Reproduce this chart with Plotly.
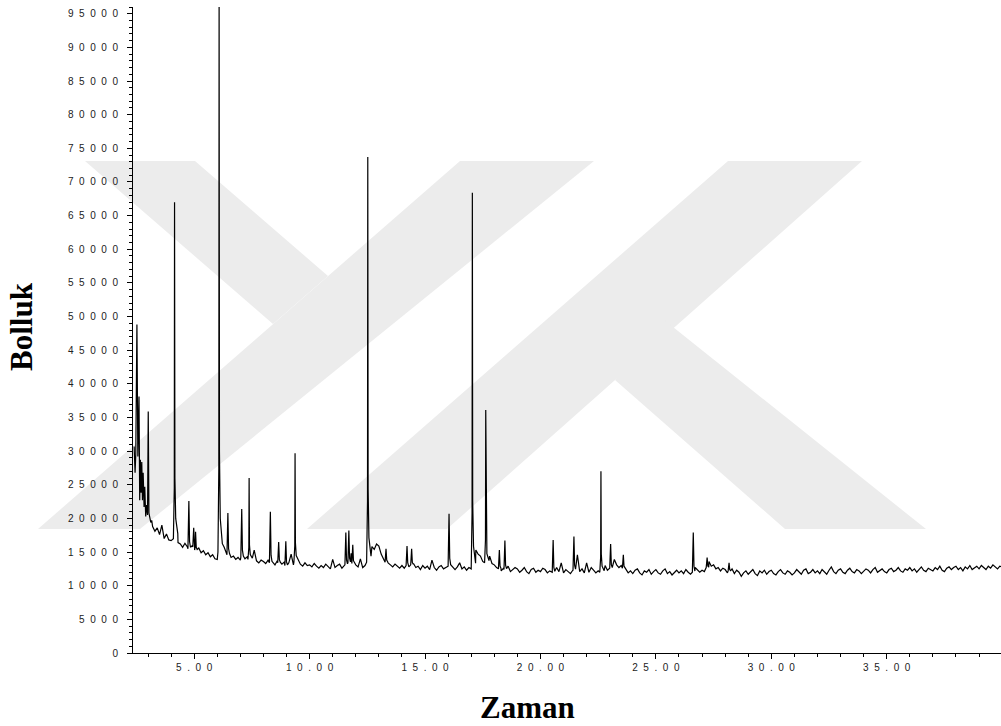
import plotly.graph_objects as go

# ---------------- data ----------------
# Start of the run: dense, overlapping early peaks (minutes, counts)
early_t = [2.40, 2.44, 2.47, 2.52, 2.56, 2.61, 2.64, 2.67, 2.70, 2.73, 2.76,
           2.79, 2.83, 2.86, 2.90, 2.94, 2.98, 3.01, 3.04, 3.08, 3.12, 3.16]
early_v = [30700, 26800, 29500, 48800, 29200, 38100, 22700, 28700, 23800, 28400, 22700,
           26800, 21700, 24700, 20300, 22000, 20500, 35900, 20800, 19800, 19400, 19700]

# Baseline (with its noise), sampled every 0.1 min from 3.2 min, in hundreds of counts
base_start = 3.2
base_step = 0.1
base_h = [
    188, 181, 186, 176, 190, 170, 177, 168,                 # 3.2 - 3.9
    167, 161, 170, 164, 162, 157, 163, 158, 155, 159,       # 4
    158, 153, 156, 149, 152, 146, 149, 143, 146, 140,       # 5
    139, 150, 158, 157, 148, 146, 142, 144, 139, 142,       # 6
    138, 142, 140, 143, 139, 137, 153, 137, 134, 138,       # 7
    136, 133, 138, 134, 135, 131, 137, 134, 132, 135,       # 8
    130, 134, 147, 131, 135, 133, 132, 129, 134, 130,       # 9
    131, 128, 133, 129, 126, 130, 127, 132, 128, 125,       # 10
    139, 127, 130, 132, 126, 129, 131, 134, 148, 133,       # 11
    131, 128, 140, 127, 130, 135, 140, 158, 154, 162,       # 12
    159, 147, 139, 135, 134, 131, 128, 132, 129, 126,       # 13
    130, 126, 130, 128, 131, 133, 127, 129, 124, 130,       # 14
    126, 129, 124, 138, 127, 123, 128, 130, 125, 127,       # 15
    129, 129, 127, 124, 128, 134, 125, 128, 123, 127,       # 16
    125, 124, 153, 147, 144, 136, 134, 130, 144, 133,       # 17
    131, 127, 125, 122, 126, 124, 129, 121, 124, 127,       # 18
    125, 120, 123, 127, 121, 118, 124, 126, 120, 123,       # 19
    121, 126, 124, 119, 122, 120, 128, 127, 121, 134,       # 20
    119, 124, 121, 118, 123, 125, 146, 121, 125, 119,       # 21
    134, 120, 127, 123, 119, 122, 120, 125, 130, 123,       # 22
    126, 126, 139, 131, 127, 130, 126, 123, 119, 122,       # 23
    118, 123, 125, 119, 116, 122, 120, 124, 117, 121,       # 24
    124, 119, 117, 122, 125, 118, 121, 116, 120, 123,       # 25
    119, 122, 118, 124, 120, 117, 120, 127, 123, 120,       # 26
    123, 121, 127, 136, 129, 131, 125, 127, 122, 126,       # 27
    124, 119, 122, 125, 118, 123, 120, 114, 119, 122,       # 28
    117, 121, 124, 118, 115, 122, 119, 123, 117, 121,       # 29
    123, 118, 116, 121, 124, 119, 117, 122, 120, 116,       # 30
    119, 124, 121, 117, 123, 125, 118, 120, 124, 119,       # 31
    122, 118, 124, 120, 117, 123, 128, 121, 118, 123,       # 32
    125, 120, 118, 123, 126, 121, 119, 124, 122, 118,       # 33
    121, 125, 123, 119, 124, 127, 120, 122, 125, 121,       # 34
    119, 124, 126, 121, 123, 127, 122, 120, 125, 123,       # 35
    127, 122, 125, 120, 124, 128, 123, 121, 126, 124,       # 36
    122, 127, 124, 129, 123, 121, 126, 128, 124, 127,       # 37
    129, 124, 127, 122, 128, 125, 130, 124, 126, 129,       # 38
    125, 130, 127, 124, 129, 126, 131, 128, 125, 129,       # 39
    128,                                                    # 40
]

# Peaks: retention time (min) and apex abundance (counts)
peak_t = [4.15, 4.77, 4.98, 5.06, 6.08, 6.46, 7.06, 7.38, 8.30, 8.66, 8.97, 9.37,
          11.57, 11.70, 11.87, 12.52, 13.31, 14.22, 14.42, 16.04, 17.05, 17.63,
          18.22, 18.46, 20.55, 21.45, 22.62, 23.04, 23.59, 26.62, 27.22, 28.17]
peak_h = [67000, 22600, 18600, 18000, 98000, 20800, 21400, 26000, 21000, 16500, 16600, 29700,
          17900, 18200, 16100, 73700, 15500, 15900, 15500, 20700, 68400, 36100,
          15300, 16700, 16800, 17300, 27000, 16200, 14600, 17900, 14200, 13400]

x_tick_vals = [5, 10, 15, 20, 25, 30, 35]
x_tick_text = ["5 . 0 0", "1 0 . 0 0", "1 5 . 0 0", "2 0 . 0 0", "2 5 . 0 0", "3 0 . 0 0", "3 5 . 0 0"]
y_tick_vals = list(range(0, 95001, 5000))
y_tick_text = ["0", "5 0 0 0"] + [" ".join(str(v)) for v in range(10000, 95001, 5000)]

x_title = "Zaman"
y_title = "Bolluk"

# ---------------- build the trace ----------------
base_t = [round(base_start + base_step * i, 2) for i in range(len(base_h))]
base_v = [h * 100 for h in base_h]

BIG = dict(off=[-0.05, -0.012, 0.0, 0.015, 0.05, 0.14], fr=[0, 0.15, 1, 0.18, 0.06, 0.015])
SMALL = dict(off=[-0.04, 0.0, 0.03, 0.07], fr=[0, 1, 0.15, 0.03])


def nearest_base(t):
    i = min(range(len(base_t)), key=lambda k: abs(base_t[k] - t))
    return base_v[i]


windows = []
pts = []
for t, h in zip(peak_t, peak_h):
    shp = BIG if h >= 25000 else SMALL
    b = nearest_base(t)
    windows.append((t + shp["off"][0] - 1e-9, t + shp["off"][-1] + 1e-9))
    for o, f in zip(shp["off"], shp["fr"]):
        pts.append((round(t + o, 4), b + f * (h - b)))

for t, v in zip(base_t, base_v):
    if not any(a <= t <= b for a, b in windows):
        pts.append((t, v))
for t, v in zip(early_t, early_v):
    pts.append((t, v))
pts.sort(key=lambda p: p[0])
tx = [p[0] for p in pts]
ty = [p[1] for p in pts]

# ---------------- figure ----------------
W, H = 1001, 726
ML, MR, MT, MB = 133, 0, 7, 73
PW, PH = W - ML - MR, H - MT - MB


def px(x):
    return (x - ML) / PW


def py(y):
    return (H - MB - y) / PH


NB = "\u00a0"
fig = go.Figure()
fig.add_trace(go.Scatter(x=tx, y=ty, mode="lines", line=dict(color="black", width=1.2),
                         hoverinfo="skip", showlegend=False))

# faint background watermark (pixel polygons)
WM_COLOR = "#ececec"
wm_polys = [
    [(460, 161), (594, 161), (140, 529), (38, 529)],
    [(728, 161), (862, 161), (447, 529), (307, 529)],
    [(85, 161), (195, 161), (328, 276), (273, 324)],
    [(785, 529), (926, 529), (663, 319), (615, 380)],
]
for poly in wm_polys:
    path = "M " + " L ".join(f"{px(a):.5f},{py(b):.5f}" for a, b in poly) + " Z"
    fig.add_shape(type="path", path=path, xref="paper", yref="paper",
                  fillcolor=WM_COLOR, line=dict(width=0), layer="below")

tick_font = dict(family="Liberation Sans, Arial, sans-serif", size=10, color="#222")
fig.update_xaxes(range=[2.35, 39.95], tickmode="array", tickvals=x_tick_vals,
                 ticktext=[s.replace(" ", NB * 2) for s in x_tick_text],
                 ticks="outside", ticklen=5, tickcolor="black", tickfont=tick_font,
                 showline=True, linecolor="black", linewidth=1, showgrid=False, zeroline=False,
                 minor=dict(dtick=1, tick0=0, ticks="outside", ticklen=3, tickcolor="black", showgrid=False))
fig.update_yaxes(range=[0, 96000], tickmode="array", tickvals=y_tick_vals,
                 ticktext=[s.replace(" ", NB * 2) for s in y_tick_text],
                 ticks="outside", ticklen=5, tickcolor="black", tickfont=tick_font,
                 ticklabelstandoff=7,
                 showline=True, linecolor="black", linewidth=1, showgrid=False, zeroline=False,
                 minor=dict(dtick=1000, tick0=0, ticks="outside", ticklen=3, tickcolor="black", showgrid=False))

title_font = dict(family="Liberation Serif, Times New Roman, serif", size=31, color="black")
fig.add_annotation(text=f"<b>{y_title}</b>", xref="paper", yref="paper", x=px(22), y=py(327),
                   textangle=-90, showarrow=False, font=title_font, xanchor="center", yanchor="middle")
fig.add_annotation(text=f"<b>{x_title}</b>", xref="paper", yref="paper", x=px(527), y=py(707),
                   showarrow=False, font=title_font, xanchor="center", yanchor="middle")

fig.update_layout(width=W, height=H, margin=dict(l=ML, r=MR, t=MT, b=MB, pad=0),
                  paper_bgcolor="white", plot_bgcolor="white", showlegend=False)
fig.write_html("out.html")
